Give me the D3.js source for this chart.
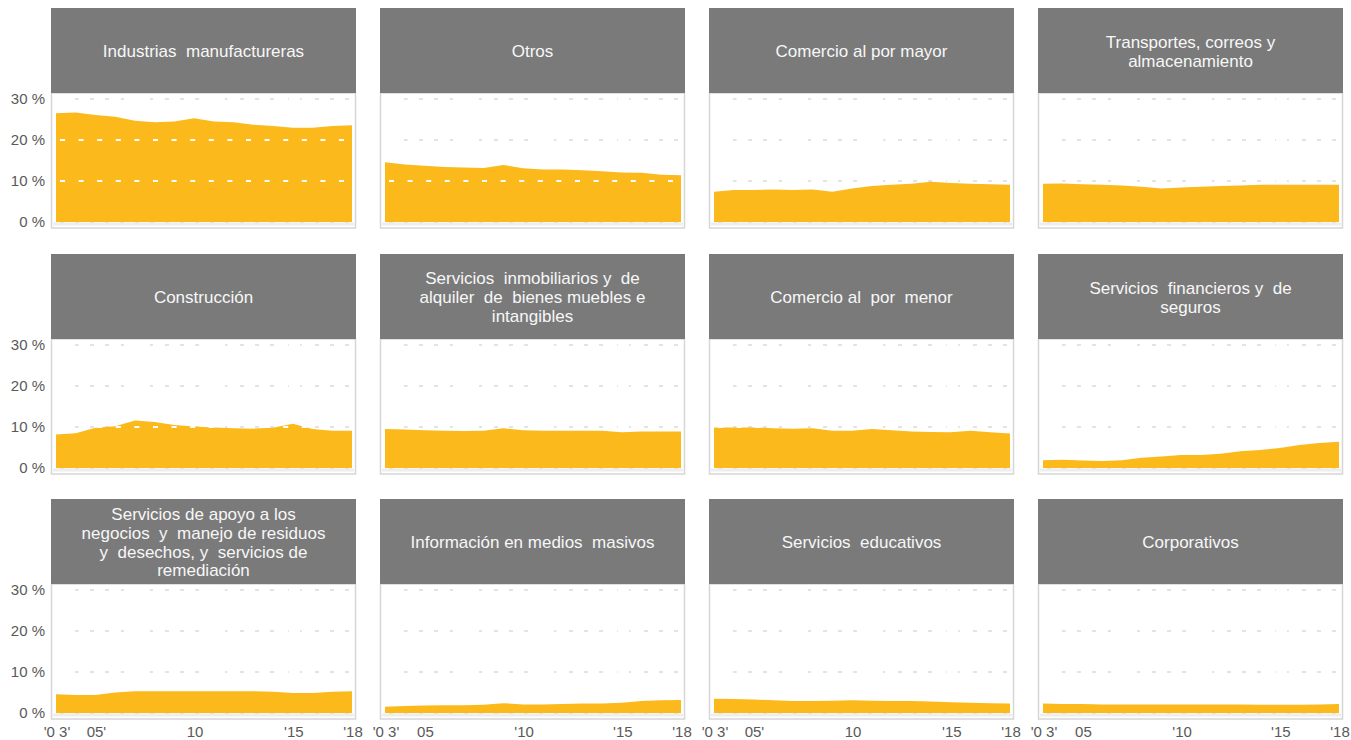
<!DOCTYPE html>
<html>
<head>
<meta charset="utf-8">
<script src="https://cdn.jsdelivr.net/npm/d3@7"></script>
<style>
  html, body { margin: 0; padding: 0; background: #ffffff; }
  svg { display: block; font-family: "Liberation Sans", Arial, sans-serif; }
</style>
</head>
<body>
<svg id="chart" width="1351" height="740"></svg>
<script>
// ---------- DATA ----------
const years = [2003, 2004, 2005, 2006, 2007, 2008, 2009, 2010, 2011, 2012, 2013, 2014, 2015, 2016, 2017, 2018];

const titles = [
  ["Industrias  manufactureras"],
  ["Otros"],
  ["Comercio al por mayor"],
  ["Transportes, correos y", "almacenamiento"],
  ["Construcción"],
  ["Servicios  inmobiliarios y  de", "alquiler  de  bienes muebles e", "intangibles"],
  ["Comercio al  por  menor"],
  ["Servicios  financieros y  de", "seguros"],
  ["Servicios de apoyo a los", "negocios  y  manejo de residuos", "y  desechos, y  servicios de", "remediación"],
  ["Información en medios  masivos"],
  ["Servicios  educativos"],
  ["Corporativos"]
];

const manufactureras = [26.5, 26.7, 26.1, 25.7, 24.7, 24.3, 24.5, 25.3, 24.5, 24.3, 23.7, 23.4, 23.0, 23.0, 23.4, 23.6];
const otros          = [14.6, 14.0, 13.7, 13.4, 13.3, 13.2, 13.9, 13.1, 12.8, 12.8, 12.6, 12.4, 12.1, 12.0, 11.5, 11.4];
const comercioMayor  = [7.4, 7.8, 7.8, 7.9, 7.8, 7.9, 7.4, 8.2, 8.8, 9.1, 9.3, 9.8, 9.5, 9.3, 9.2, 9.1];
const transportes    = [9.3, 9.4, 9.2, 9.1, 8.9, 8.6, 8.2, 8.4, 8.6, 8.8, 8.9, 9.1, 9.1, 9.1, 9.1, 9.1];
const construccion   = [8.2, 8.5, 9.8, 10.2, 11.6, 11.2, 10.5, 10.1, 9.9, 9.7, 9.6, 9.8, 10.8, 9.5, 9.1, 9.1];
const inmobiliarios  = [9.5, 9.4, 9.2, 9.1, 9.0, 9.1, 9.7, 9.2, 9.1, 9.1, 9.1, 9.1, 8.7, 8.9, 8.9, 8.9];
const comercioMenor  = [9.9, 9.9, 9.9, 9.7, 9.6, 9.7, 9.1, 9.1, 9.5, 9.2, 8.9, 8.8, 8.7, 9.1, 8.7, 8.4];
const financieros    = [1.9, 2.0, 1.8, 1.7, 1.9, 2.5, 2.8, 3.2, 3.2, 3.5, 4.1, 4.4, 4.9, 5.6, 6.1, 6.4];
const apoyoNegocios  = [4.6, 4.4, 4.4, 5.0, 5.3, 5.3, 5.3, 5.3, 5.3, 5.3, 5.3, 5.2, 4.9, 4.9, 5.2, 5.3];
const informacion    = [1.5, 1.7, 1.8, 1.9, 1.9, 2.0, 2.4, 2.1, 2.1, 2.2, 2.3, 2.3, 2.5, 2.9, 3.1, 3.2];
const educativos     = [3.5, 3.4, 3.3, 3.1, 2.9, 2.9, 3.0, 3.1, 3.0, 2.9, 2.9, 2.8, 2.6, 2.5, 2.4, 2.3];
const corporativos   = [2.3, 2.2, 2.2, 2.1, 2.1, 2.1, 2.1, 2.1, 2.1, 2.1, 2.1, 2.0, 2.0, 2.0, 2.1, 2.2];

const seriesList = [manufactureras, otros, comercioMayor, transportes,
                    construccion, inmobiliarios, comercioMenor, financieros,
                    apoyoNegocios, informacion, educativos, corporativos];

const yTicks = [0, 10, 20, 30];
const yTickLabels = ["0 %", "10 %", "20 %", "30 %"];
const xTickYears = [2003, 2005, 2010, 2015, 2018];
const xTickLabelsByCol = [
  ["'0 3'", "05'", "10", "'15", "'18"],
  ["'0 3'", "05", "'10", "'15", "'18"],
  ["'0 3'", "05'", "10", "'15", "'18"],
  ["'0 3'", "05", "'10", "'15", "'18"]
];

// ---------- LAYOUT ----------
const colX = [51, 380, 709, 1038];
const rowY = [8, 254, 499];
const panelW = 305;
const headerH = 85;
const plotH = 135;

const svg = d3.select("#chart");

seriesList.forEach((vals, i) => {
  const col = i % 4, row = Math.floor(i / 4);
  const px = colX[col], py = rowY[row];
  const top = py + headerH;
  const g = svg.append("g");

  const x = d3.scaleLinear().domain([2003, 2018]).range([px + 5, px + 301]);
  const y = d3.scaleLinear().domain([0, 30]).range([top + 129, top + 6]);

  // plot box border
  g.append("rect")
    .attr("x", px + 0.5).attr("y", top)
    .attr("width", panelW - 1).attr("height", plotH)
    .attr("fill", "#ffffff").attr("stroke", "#d6d6d6").attr("stroke-width", 1.5);

  // zero base band
  g.append("line")
    .attr("x1", px + 2).attr("x2", px + panelW - 2)
    .attr("y1", y(0) + 2).attr("y2", y(0) + 2)
    .attr("stroke", "#eeeeee").attr("stroke-width", 3);

  // gray dashed gridlines (under area)
  g.selectAll(".grid").data(yTicks).join("line")
    .attr("x1", px + 3).attr("x2", px + panelW - 3)
    .attr("y1", d => y(d)).attr("y2", d => y(d))
    .attr("stroke", "#e3e3e3").attr("stroke-width", 2)
    .attr("stroke-dasharray", "4,11").attr("stroke-dashoffset", -6);

  // area
  const area = d3.area()
    .x((d, j) => x(years[j]))
    .y0(y(0))
    .y1(d => y(d));
  g.append("path").datum(vals)
    .attr("d", area)
    .attr("fill", "#FBB91B");

  // white dashed gridlines over area
  g.selectAll(".wgrid").data(yTicks.filter(t => t > 0)).join("line")
    .attr("x1", x(2003)).attr("x2", x(2018))
    .attr("y1", d => y(d)).attr("y2", d => y(d))
    .attr("stroke", "#ffffff").attr("stroke-width", 1.8)
    .attr("stroke-dasharray", "5,13.6").attr("stroke-dashoffset", -4);

  // header
  g.append("rect")
    .attr("x", px).attr("y", py)
    .attr("width", panelW).attr("height", headerH)
    .attr("fill", "#7a7a7a");

  const lines = titles[i];
  const lh = 18.8;
  const cy = py + headerH / 2 + 0.8;
  g.append("text")
    .attr("text-anchor", "middle")
    .attr("fill", "#f7f7f7")
    .style("font-size", "17px")
    .style("white-space", "pre")
    .selectAll("tspan").data(lines).join("tspan")
    .attr("x", px + panelW / 2)
    .attr("y", (d, k) => cy + (k - (lines.length - 1) / 2) * lh)
    .attr("dy", "0.35em")
    .text(d => d);

  // y axis labels (first column only)
  if (col === 0) {
    g.selectAll(".ylab").data(yTicks).join("text")
      .attr("x", 45).attr("y", d => y(d)).attr("dy", "0.36em")
      .attr("text-anchor", "end")
      .attr("fill", "#595959")
      .style("font-size", "15px")
      .text((d, k) => yTickLabels[k]);
  }

  // x axis labels (last row only)
  if (row === 2) {
    g.selectAll(".xlab").data(xTickYears).join("text")
      .attr("x", d => x(d) + 1).attr("y", top + plotH + 18)
      .attr("text-anchor", "middle")
      .attr("fill", "#595959")
      .style("font-size", "15px")
      .text((d, k) => xTickLabelsByCol[col][k]);
  }
});
</script>
</body>
</html>
